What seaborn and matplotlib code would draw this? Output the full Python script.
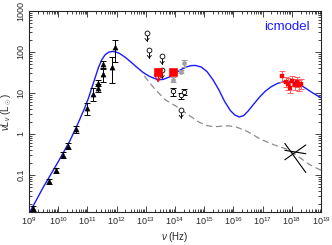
import numpy as np
import pandas as pd
import matplotlib
matplotlib.use("Agg")
import matplotlib.pyplot as plt
import seaborn as sns
from matplotlib.ticker import LogLocator, FixedLocator

# ---------------- data (log10 frequency, nuLnu in Lsun) ----------------
model_logx = [9.03, 9.5, 10.0, 10.4, 10.69, 10.9, 11.04, 11.21, 11.38, 11.5, 11.61, 11.73,
              11.85, 11.96, 12.1, 12.3, 12.5, 12.7, 12.9, 13.1, 13.3, 13.45, 13.6, 13.8,
              14.0, 14.2, 14.4, 14.55, 14.7, 14.9, 15.1, 15.3, 15.5, 15.7, 15.9, 16.05,
              16.2, 16.35, 16.5, 16.7, 16.9, 17.1, 17.3, 17.5, 17.7, 17.9, 18.1, 18.3,
              18.5, 18.7, 18.9, 19.0]
model_y = [0.0125, 0.052, 0.21, 0.68, 1.9, 4.2, 7.6, 18, 42, 66, 86, 99,
           103, 101, 92, 74, 56, 42, 32, 26, 22.5, 21, 21.5, 24.5,
           30, 37, 43.5, 46.5, 47, 43, 33, 21, 12, 6.2, 3.7, 2.9,
           2.6, 2.8, 3.6, 5.4, 8.0, 11.2, 14.3, 17, 18.7, 19.2, 18.2, 15.7,
           12.7, 10.2, 8.4, 7.7]

dash_logx = [12.95, 13.1, 13.33, 13.67, 14.07, 14.47, 14.82, 15.10, 15.35, 15.6, 15.85,
             16.1, 16.48, 16.94, 17.40, 17.86, 18.20, 18.60, 19.00]
dash_y = [26, 19, 12, 6.8, 4.6, 2.9, 1.95, 1.6, 1.5, 1.55, 1.58,
          1.48, 1.15, 0.74, 0.54, 0.42, 0.29, 0.18, 0.13]

radio_logx = [9.15, 9.69, 9.92, 10.18, 10.35, 10.62, 10.98, 11.19, 11.37, 11.37,
              11.55, 11.55, 11.84, 11.96]
radio_y = [0.0155, 0.071, 0.13, 0.31, 0.51, 1.3, 4.2, 9.3, 13.5, 17.8,
           29, 50, 43, 130]
radio_lo = [0.013, 0.061, 0.113, 0.26, 0.43, 1.05, 2.9, 6.3, 10.5, 14.5,
            19, 38, 18, 57]
radio_hi = [0.018, 0.082, 0.15, 0.37, 0.60, 1.6, 5.8, 13, 17, 21,
            40, 62, 75, 200]

ul_logx = [13.04, 13.12, 13.56, 13.56, 14.21]
ul_y = [290, 112, 80, 36, 3.9]

open_logx = [13.94, 14.21, 14.30]
open_y = [11.0, 8.7, 10.7]
open_lo = [8.5, 7.3, 8.8]
open_hi = [13.0, 10.2, 12.5]

gray_logx = [13.94, 14.21, 14.30]
gray_y = [21, 33, 53]
gray_lo = [19, 30, 42]
gray_hi = [24, 37, 65]

red_ul_logx = [13.42]
red_ul_y = [32]
red_sq_logx = [13.94]
red_sq_y = [33]
red_sq_lo = [28]
red_sq_hi = [38]

xray_logx = [17.68, 17.80, 17.88, 17.95, 18.02, 18.10, 18.17, 18.25, 18.33]
xray_y = [26, 19, 17, 13.5, 20, 16, 19, 15.5, 16.5]
xray_lo = [19, 14, 12, 10, 15, 12, 14, 11.5, 12.5]
xray_hi = [34, 25, 23, 19, 26, 22, 25, 21, 22]

bow_logx = [17.76, 18.48]
bow_top = [0.59, 0.115]
bow_bot = [0.235, 0.54]
bow_mid = [0.40, 0.33]

xticks_exp = list(range(9, 20))
yticks_vals = [0.1, 1, 10, 100, 1000]
ytick_labels = ["0.1", "1", "10", "100", "1000"]

# ---------------- plotting ----------------
sns.set_style("ticks")
plt.rcParams['font.family'] = ['Liberation Sans', 'DejaVu Sans']
plt.rcParams['mathtext.fontset'] = 'custom'
plt.rcParams['mathtext.rm'] = 'Liberation Sans'
plt.rcParams['mathtext.it'] = 'Liberation Sans:italic'

fig = plt.figure(figsize=(3.32, 2.45), dpi=100)
ax = fig.add_axes([29/332, 1-212/245, (321-29)/332, (212-11)/245])

tx = lambda l: [10.0**v for v in l]

dfm = pd.DataFrame({"x": tx(model_logx), "y": model_y})
sns.lineplot(data=dfm, x="x", y="y", ax=ax, color="#1a1aff", lw=1.0, sort=False, estimator=None)
dfd = pd.DataFrame({"x": tx(dash_logx), "y": dash_y})
sns.lineplot(data=dfd, x="x", y="y", ax=ax, color="#8c8c8c", lw=0.9, sort=False,
             estimator=None, linestyle=(0, (5, 3)))

# radio triangles
rx = np.array(tx(radio_logx)); ry = np.array(radio_y)
ax.errorbar(rx, ry, yerr=[ry - np.array(radio_lo), np.array(radio_hi) - ry], fmt='none',
            ecolor='black', elinewidth=0.7, capsize=2, capthick=0.7, zorder=3)
sns.scatterplot(x=rx, y=ry, ax=ax, marker='^', color='black', s=14, edgecolor='black', zorder=4)

# gray points
gx = np.array(tx(gray_logx)); gy = np.array(gray_y)
ax.errorbar(gx, gy, yerr=[gy - np.array(gray_lo), np.array(gray_hi) - gy], fmt='none',
            ecolor='#a0a0a0', elinewidth=0.7, capsize=2, capthick=0.7, zorder=3)
sns.scatterplot(x=gx, y=gy, ax=ax, marker='o', color='#a0a0a0', s=10, edgecolor='#a0a0a0', zorder=4)

# open circles with error bars
ox = np.array(tx(open_logx)); oy = np.array(open_y)
ax.errorbar(ox, oy, yerr=[oy - np.array(open_lo), np.array(open_hi) - oy], fmt='none',
            ecolor='black', elinewidth=0.7, capsize=2, capthick=0.7, zorder=3)
sns.scatterplot(x=ox, y=oy, ax=ax, marker='o', facecolor='white', s=10, edgecolor='black',
                linewidth=0.6, zorder=4)

# upper limits (open circle with downward arrow)
ux = np.array(tx(ul_logx)); uy = np.array(ul_y)
for xv, yv in zip(ux, uy):
    ax.plot([xv, xv], [yv, yv * 0.64], color='black', lw=0.7, zorder=3)
    ax.plot([xv * 0.85, xv, xv * 1.18], [yv * 0.74, yv * 0.64, yv * 0.74],
            color='black', lw=0.6, zorder=3)
sns.scatterplot(x=ux, y=uy, ax=ax, marker='o', facecolor='white', s=12, edgecolor='black',
                linewidth=0.6, zorder=4)

# red points
rux = np.array(tx(red_ul_logx)); ruy = np.array(red_ul_y)
for xv, yv in zip(rux, ruy):
    ax.plot([xv, xv], [yv, yv * 0.68], color='red', lw=0.8, zorder=5)
    ax.scatter([xv], [yv * 0.72], marker='v', s=28, facecolor='none', edgecolor='red',
               linewidth=0.8, zorder=5)
sns.scatterplot(x=rux, y=ruy, ax=ax, marker='s', color='red', s=30, edgecolor='red', zorder=6)
rsx = np.array(tx(red_sq_logx)); rsy = np.array(red_sq_y)
ax.errorbar(rsx, rsy, yerr=[rsy - np.array(red_sq_lo), np.array(red_sq_hi) - rsy], fmt='none',
            ecolor='#ff8080', elinewidth=0.8, capsize=2, capthick=0.8, zorder=5)
sns.scatterplot(x=rsx, y=rsy, ax=ax, marker='s', color='red', s=30, edgecolor='red', zorder=6)

# x-ray red points
xx = np.array(tx(xray_logx)); xy = np.array(xray_y)
ax.errorbar(xx, xy, yerr=[xy - np.array(xray_lo), np.array(xray_hi) - xy], fmt='none',
            ecolor='#ff6060', elinewidth=0.7, capsize=2, capthick=0.7, zorder=5)
sns.scatterplot(x=xx, y=xy, ax=ax, marker='s', color='red', s=10, edgecolor='red', zorder=6)

# bowtie
bx = tx(bow_logx)
ax.plot(bx, bow_top, color='black', lw=0.8, zorder=5)
ax.plot(bx, bow_bot, color='black', lw=0.8, zorder=5)
ax.plot(bx, bow_mid, color='black', lw=0.8, zorder=5)

# axes
ax.set_xscale('log'); ax.set_yscale('log')
ax.set_xlim(1e9, 1e19)
ax.set_ylim(0.0125, 1000)
ax.xaxis.set_major_locator(FixedLocator([10.0**e for e in xticks_exp]))
ax.set_xticklabels([r'$10^{%d}$' % e for e in xticks_exp])
ax.xaxis.set_minor_locator(LogLocator(base=10, subs=np.arange(2, 10), numticks=100))
ax.yaxis.set_major_locator(FixedLocator(yticks_vals))
ax.set_yticklabels(ytick_labels, rotation=90, va='center')
ax.yaxis.set_minor_locator(LogLocator(base=10, subs=np.arange(2, 10), numticks=100))
ax.tick_params(which='both', direction='in', top=True, right=True, width=0.6,
               labelsize=6.5, pad=2.5)
ax.tick_params(which='major', length=4.5)
ax.tick_params(which='minor', length=2.2)
for s in ax.spines.values():
    s.set_linewidth(0.8)
ax.set_xlabel(r'$\nu$ (Hz)', fontsize=7, labelpad=2)
ax.set_ylabel(r'$\nu L_\nu$ (L$_\odot$)', fontsize=7)
ax.yaxis.set_label_coords(-0.052, 0.5)
ax.text(0.962, 0.92, 'icmodel', transform=ax.transAxes, color='#1a1aff', fontsize=9.5,
        ha='right', va='center')

fig.savefig('out.png', dpi=100)
